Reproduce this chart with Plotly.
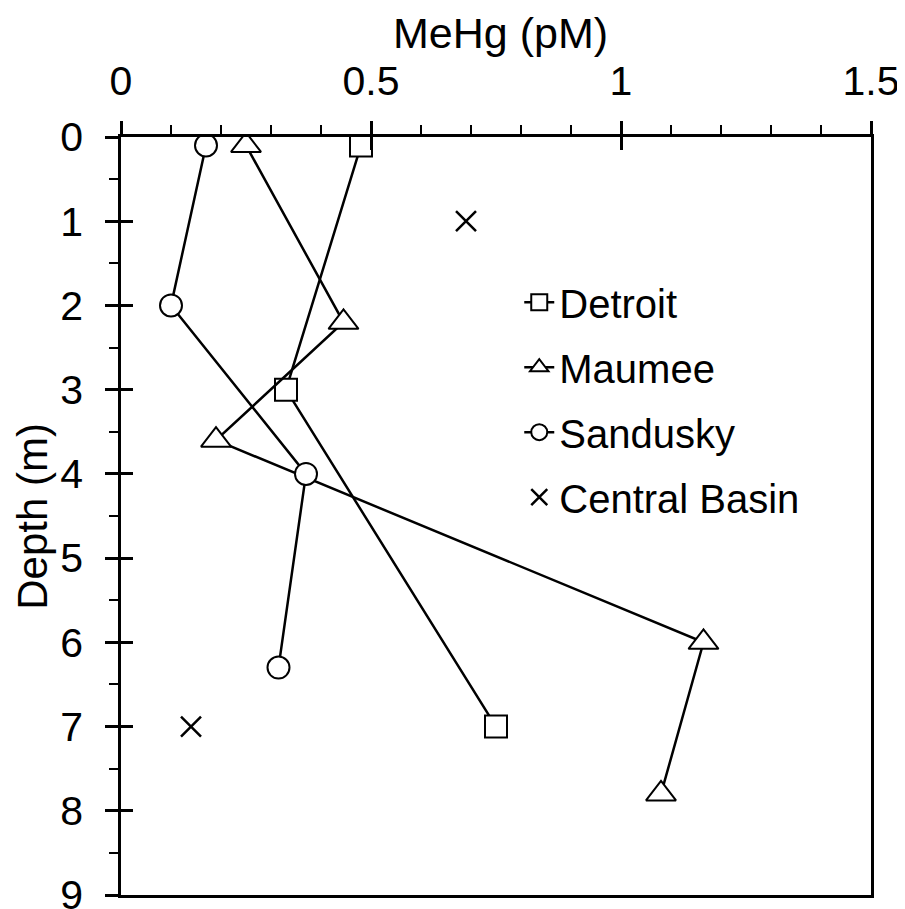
import plotly.graph_objects as go

# Data (MeHg in pM vs depth in m)
detroit_x = [0.48, 0.33, 0.75]
detroit_y = [0.1, 3.0, 7.0]
maumee_x = [0.25, 0.445, 0.19, 1.165, 1.08]
maumee_y = [0.1, 2.2, 3.6, 6.0, 7.8]
sandusky_x = [0.17, 0.10, 0.37, 0.315]
sandusky_y = [0.1, 2.0, 4.0, 6.3]
central_x = [0.69, 0.14]
central_y = [1.0, 7.0]

FONT = "Liberation Sans, Arial, sans-serif"
BLK = "black"

fig = go.Figure()

def line_trace(x, y, name, symbol, size, grp):
    return go.Scatter(
        x=x, y=y, name=name, mode="lines+markers", legendgroup=grp,
        line=dict(color=BLK, width=2.5),
        marker=dict(symbol=symbol, size=size, color="white",
                    line=dict(color=BLK, width=2)),
    )

fig.add_trace(line_trace(detroit_x, detroit_y, "Detroit", "square", 22, "a"))
fig.add_trace(line_trace(maumee_x, maumee_y, "Maumee", "triangle-up", 26, "b"))
fig.add_trace(line_trace(sandusky_x, sandusky_y, "Sandusky", "circle", 22, "c"))
fig.add_trace(go.Scatter(
    x=central_x, y=central_y, name="Central Basin", mode="markers", legendgroup="d",
    marker=dict(symbol="x-thin", size=20, color=BLK, line=dict(color=BLK, width=2.5)),
))
# dummy trace for overlay axes (inside half of crossing ticks)
fig.add_trace(go.Scatter(x=[None], y=[None], xaxis="x2", yaxis="y2",
                         showlegend=False, hoverinfo="skip"))

fig.update_layout(
    width=897, height=901,
    margin=dict(l=113, r=34, t=129, b=14, autoexpand=False),
    paper_bgcolor="white", plot_bgcolor="white",
    font=dict(family=FONT, size=40, color=BLK),
    showlegend=True,
    legend=dict(x=0.531, y=0.825, xanchor="left", yanchor="top",
                bgcolor="rgba(0,0,0,0)", borderwidth=0,
                font=dict(family=FONT, size=40, color=BLK),
                itemwidth=30, tracegroupgap=10),
    xaxis=dict(
        side="top", range=[0, 1.5], tick0=0, dtick=0.5, automargin=False,
        ticks="outside", ticklen=13, tickwidth=2.5, tickcolor=BLK,
        showline=True, linewidth=2.5, linecolor=BLK, mirror=True,
        showgrid=False, zeroline=False, ticklabeloverflow="allow",
        tickfont=dict(family=FONT, size=41, color=BLK),
        ticklabelstandoff=10,
        minor=dict(dtick=0.1, tick0=0, ticks="outside", ticklen=9,
                   tickwidth=2, tickcolor=BLK, showgrid=False),
    ),
    xaxis2=dict(
        overlaying="x", side="top", anchor="y", range=[0, 1.5], tick0=0, dtick=0.5,
        ticks="inside", ticklen=13, tickwidth=2.5, tickcolor=BLK, automargin=False,
        showticklabels=False, showline=False, showgrid=False, zeroline=False,
    ),
    yaxis=dict(
        range=[9, 0], tick0=0, dtick=1, automargin=False,
        ticks="outside", ticklen=13, tickwidth=2.5, tickcolor=BLK,
        showline=True, linewidth=2.5, linecolor=BLK, mirror=True,
        showgrid=False, zeroline=False, ticklabeloverflow="allow",
        tickfont=dict(family=FONT, size=41, color=BLK),
        ticklabelstandoff=14,
        minor=dict(dtick=0.5, tick0=0, ticks="outside", ticklen=9,
                   tickwidth=2, tickcolor=BLK, showgrid=False),
    ),
    yaxis2=dict(
        overlaying="y", side="left", anchor="x", range=[9, 0], tick0=0, dtick=1,
        ticks="inside", ticklen=12, tickwidth=2.5, tickcolor=BLK, automargin=False,
        showticklabels=False, showline=False, showgrid=False, zeroline=False,
    ),
    annotations=[
        dict(text="MeHg (pM)", xref="paper", yref="paper", x=0.506, y=1.1368,
             xanchor="center", yanchor="middle", showarrow=False,
             font=dict(family=FONT, size=43, color=BLK)),
        dict(text="Depth (m)", xref="paper", yref="paper", x=-0.119, y=0.5,
             xanchor="center", yanchor="middle", textangle=-90, showarrow=False,
             font=dict(family=FONT, size=42, color=BLK)),
    ],
)

fig.write_html("out.html")
